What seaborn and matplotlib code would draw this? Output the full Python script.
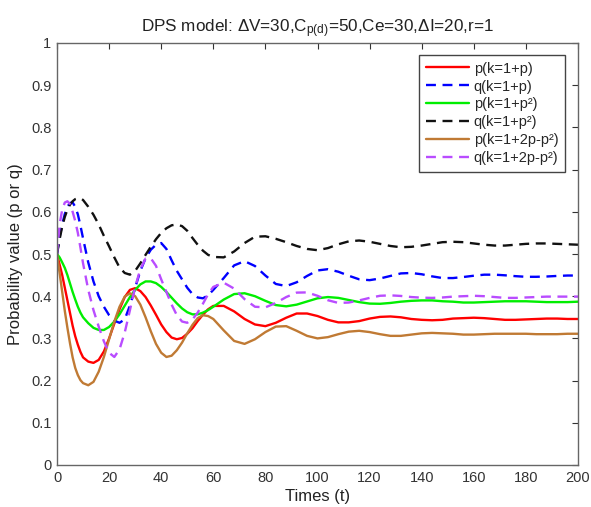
import numpy as np
import pandas as pd
import matplotlib
matplotlib.use("Agg")
import matplotlib.pyplot as plt
import seaborn as sns

# ---- data ----
t = [0, 1, 2, 3, 4, 5, 6, 7, 8, 9, 10,
     12, 14, 16, 18, 20, 22, 24, 26, 28, 30, 32, 34, 36, 38, 40, 42, 44, 46, 48, 50, 52, 54, 56, 58, 60,
     64, 68, 72, 76, 80, 84, 88, 92, 96, 100, 104, 108, 112, 116, 120, 124, 128, 132, 136, 140,
     144, 148, 152, 156, 160, 164, 168, 172, 176, 180, 184, 188, 192, 196, 200]

p_k1p = [0.5, 0.475, 0.45, 0.42, 0.39, 0.36, 0.33, 0.305, 0.285, 0.268, 0.255,
         0.245, 0.242, 0.249, 0.269, 0.300, 0.335, 0.369, 0.398, 0.415, 0.419, 0.412, 0.398, 0.378, 0.356,
         0.333, 0.315, 0.302, 0.298, 0.301, 0.311, 0.324, 0.341, 0.356, 0.369, 0.377,
         0.377, 0.364, 0.346, 0.333, 0.329, 0.337, 0.349, 0.359, 0.359, 0.353, 0.344, 0.338, 0.338, 0.341,
         0.347, 0.351, 0.352, 0.350, 0.346, 0.344, 0.343, 0.344, 0.347, 0.348, 0.349, 0.348, 0.346, 0.344,
         0.344, 0.345, 0.346, 0.347, 0.347, 0.346, 0.346]

q_k1p = [0.5, 0.54, 0.57, 0.595, 0.612, 0.621, 0.622, 0.612, 0.594, 0.567, 0.537,
         0.48, 0.435, 0.40, 0.375, 0.355, 0.342, 0.337, 0.345, 0.378, 0.42, 0.46, 0.49, 0.51, 0.522,
         0.526, 0.512, 0.485, 0.46, 0.44, 0.42, 0.405, 0.397, 0.395, 0.402, 0.415,
         0.443, 0.473, 0.483, 0.4715, 0.449, 0.429, 0.424, 0.433, 0.448, 0.461, 0.464, 0.458, 0.4485, 0.440,
         0.438, 0.442, 0.448, 0.454, 0.455, 0.452, 0.447, 0.443, 0.443, 0.4455, 0.4485, 0.451, 0.451, 0.4495,
         0.4475, 0.446, 0.446, 0.4467, 0.448, 0.449, 0.449]

p_k1p2 = [0.5, 0.492, 0.48, 0.467, 0.45, 0.43, 0.41, 0.392, 0.375, 0.361, 0.35,
          0.336, 0.325, 0.320, 0.320, 0.327, 0.340, 0.357, 0.3775, 0.398, 0.415, 0.428, 0.435, 0.435, 0.431,
          0.422, 0.410, 0.3965, 0.383, 0.371, 0.362, 0.357, 0.357, 0.361, 0.367, 0.375,
          0.392, 0.405, 0.407, 0.400, 0.389, 0.379, 0.376, 0.380, 0.3875, 0.395, 0.398, 0.396, 0.391, 0.386,
          0.3825, 0.382, 0.384, 0.387, 0.389, 0.390, 0.390, 0.388, 0.387, 0.385, 0.385, 0.386, 0.387, 0.388,
          0.388, 0.388, 0.387, 0.386, 0.386, 0.386, 0.387]

q_k1p2 = [0.5, 0.535, 0.565, 0.588, 0.605, 0.617, 0.625, 0.63, 0.632, 0.632, 0.628,
          0.612, 0.593, 0.57, 0.543, 0.518, 0.492, 0.468, 0.455, 0.451, 0.46, 0.478, 0.498, 0.517, 0.535,
          0.55, 0.561, 0.568, 0.57, 0.566, 0.555, 0.538, 0.522, 0.508, 0.498, 0.493,
          0.492, 0.506, 0.526, 0.541, 0.542, 0.536, 0.528, 0.519, 0.512, 0.509, 0.514, 0.523, 0.530, 0.532,
          0.529, 0.524, 0.519, 0.516, 0.517, 0.520, 0.524, 0.528, 0.529, 0.528, 0.525, 0.522, 0.520, 0.520,
          0.522, 0.524, 0.525, 0.525, 0.524, 0.523, 0.522]

p_k12p = [0.5, 0.455, 0.41, 0.365, 0.325, 0.288, 0.255, 0.23, 0.213, 0.201, 0.194,
          0.189, 0.197, 0.221, 0.256, 0.298, 0.340, 0.375, 0.399, 0.407, 0.400, 0.380, 0.350, 0.317, 0.287,
          0.266, 0.256, 0.259, 0.272, 0.290, 0.312, 0.332, 0.348, 0.355, 0.353, 0.346,
          0.319, 0.294, 0.287, 0.298, 0.315, 0.328, 0.329, 0.318, 0.306, 0.300, 0.303, 0.310, 0.316, 0.318,
          0.315, 0.310, 0.306, 0.306, 0.309, 0.312, 0.313, 0.312, 0.311, 0.309, 0.309, 0.310, 0.311, 0.311,
          0.311, 0.311, 0.310, 0.310, 0.310, 0.311, 0.311]

q_k12p = [0.5, 0.57, 0.605, 0.622, 0.625, 0.618, 0.6, 0.578, 0.55, 0.515, 0.478,
          0.415, 0.367, 0.328, 0.293, 0.266, 0.256, 0.274, 0.314, 0.367, 0.422, 0.464, 0.489, 0.490, 0.472,
          0.44, 0.41, 0.38, 0.355, 0.34, 0.337, 0.345, 0.361, 0.382, 0.4045, 0.422,
          0.432, 0.418, 0.393, 0.375, 0.3735, 0.384, 0.398, 0.4085, 0.409, 0.401, 0.3905, 0.384, 0.385, 0.390,
          0.396, 0.401, 0.402, 0.4006, 0.398, 0.3965, 0.396, 0.397, 0.399, 0.400, 0.401, 0.400, 0.398, 0.396,
          0.396, 0.397, 0.398, 0.399, 0.399, 0.399, 0.399]

labels = ["p(k=1+p)", "q(k=1+p)", "p(k=1+p²)", "q(k=1+p²)",
          "p(k=1+2p-p²)", "q(k=1+2p-p²)"]
series = [p_k1p, q_k1p, p_k1p2, q_k1p2, p_k12p, q_k12p]
colors = ["#ff0000", "#0000ff", "#00ee00", "#111111", "#c07a34", "#b94cff"]
dashed = [False, True, False, True, False, True]

xticks = [0, 20, 40, 60, 80, 100, 120, 140, 160, 180, 200]
yticks = [0, 0.1, 0.2, 0.3, 0.4, 0.5, 0.6, 0.7, 0.8, 0.9, 1]
ytick_labels = ["0", "0.1", "0.2", "0.3", "0.4", "0.5", "0.6", "0.7", "0.8", "0.9", "1"]

# ---- style ----
sns.set_style("white")
plt.rcParams["font.family"] = ["Liberation Sans", "DejaVu Sans"]
plt.rcParams["mathtext.fontset"] = "custom"
plt.rcParams["mathtext.rm"] = "Liberation Sans"
plt.rcParams["mathtext.default"] = "regular"

fig = plt.figure(figsize=(5.91, 5.07), dpi=100)
ax = fig.add_axes([57 / 591, 1 - 465 / 507, 521 / 591, 422 / 507])

for vals, lab, col, dsh in zip(series, labels, colors, dashed):
    df = pd.DataFrame({"t": t, "v": vals})
    sns.lineplot(data=df, x="t", y="v", ax=ax, color=col, lw=1.7, label=lab,
                 estimator=None, sort=False)
    if dsh:
        ax.lines[-1].set_dashes((4.2, 2.8))

ax.set_xlim(0, 200)
ax.set_ylim(0, 1)
ax.set_xticks(xticks)
ax.set_yticks(yticks)
ax.set_yticklabels(ytick_labels)
ax.tick_params(direction="in", length=4, width=0.8, top=True, right=True,
               labelsize=10.5, colors="#333333", pad=4)
for sp in ax.spines.values():
    sp.set_visible(True)
    sp.set_color("#666666")
    sp.set_linewidth(1.0)

ax.set_xlabel("Times (t)", fontsize=12, color="#222222", labelpad=3)
ax.set_ylabel("Probability value (p or q)", fontsize=12, color="#222222", labelpad=6)
ax.set_title("DPS model: ΔV=30,C$_{p(d)}$=50,Ce=30,ΔI=20,r=1", fontsize=12.3,
             color="#222222", pad=8)

leg = ax.legend(loc="upper right", bbox_to_anchor=((565 - 57) / 521, (465 - 55) / 422),
                fontsize=10.5, frameon=True, fancybox=False, framealpha=1,
                handlelength=3.0, handletextpad=0.3, labelspacing=0.27,
                borderpad=0.45, borderaxespad=0)
leg.get_frame().set_edgecolor("#444444")
leg.get_frame().set_linewidth(1.0)

fig.savefig("out.png", dpi=100, facecolor="white")
